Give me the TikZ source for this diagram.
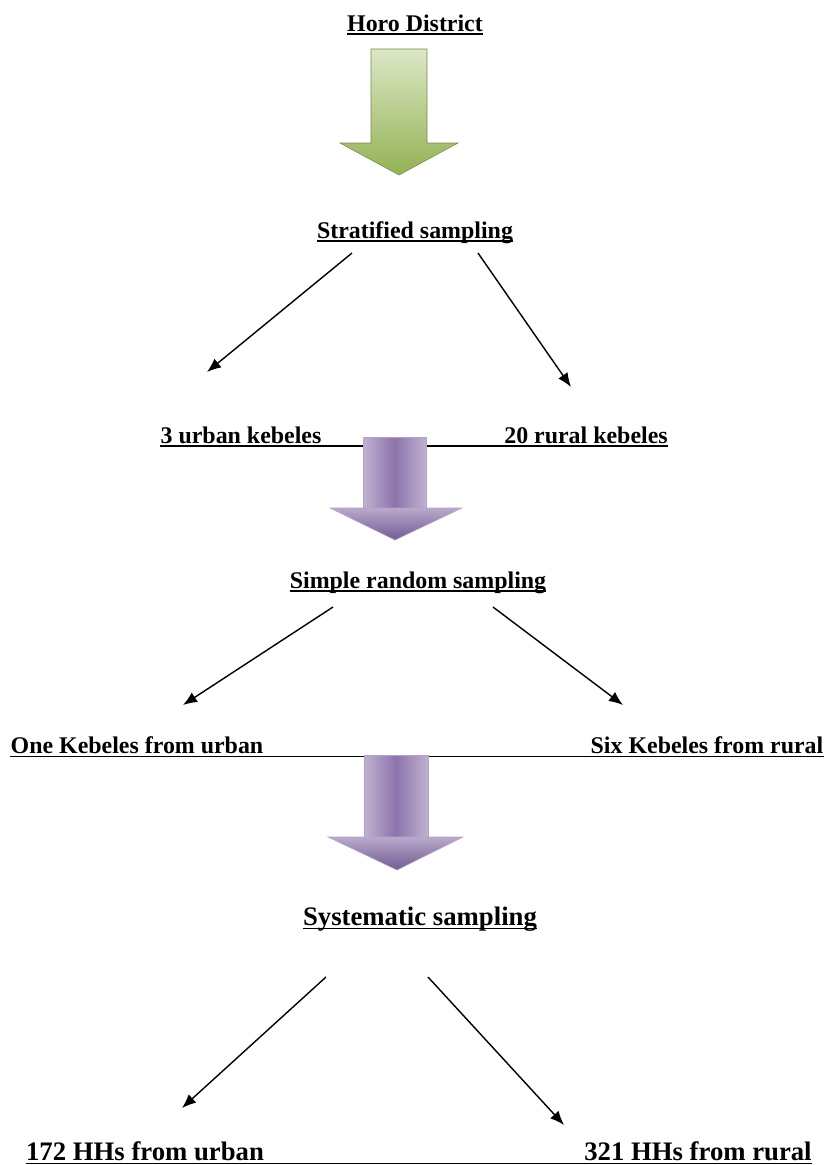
\documentclass[tikz,border=0pt]{standalone}
\usepackage{fontspec}
\setmainfont{Liberation Serif}
\usepackage{tikz}
\usetikzlibrary{arrows.meta}

\definecolor{leafgreen}{HTML}{9BBB59}
\definecolor{lilac}{HTML}{8064A2}

\begin{document}
\begin{tikzpicture}[x=0.025cm, y=-0.025cm,
	lbl/.style={inner sep=0pt, anchor=base, font=\bfseries\fontsize{17}{20}\selectfont},
	biglbl/.style={lbl, font=\bfseries\fontsize{19}{22}\selectfont},
	uline/.style={line width=1.1pt},
	pointer/.style={-{Latex[length=10pt,width=8pt]}, line width=1pt},
	shaft/.style={left color=lilac!50!white, right color=lilac!50!white, middle color=lilac!90!white, draw=lilac!60!white, line width=0.4pt},
	head/.style={top color=lilac!55!white, bottom color=lilac!90!black, draw=lilac!60!white, line width=0.4pt}]
	
	\useasboundingbox (0,0) rectangle (824,1165);
	
	\node[lbl] (horo)    at (415, 31)   {Horo District};
	\node[lbl] (strat)   at (415, 238)  {Stratified sampling};
	
	\node[lbl] (urban3)  at (241, 443)  {3 urban kebeles};
	\node[lbl] (rural20) at (586, 443)  {20 rural kebeles};
	
	\node[lbl] (simple)  at (418, 588)  {Simple random sampling};
	
	\node[lbl] (urban1)  at (137, 753)  {One Kebeles from urban};
	\node[lbl] (rural6)  at (707, 753)  {Six Kebeles from rural};
	
	\node[biglbl] (syst)  at (420, 925)  {Systematic sampling};
	
	\node[biglbl] (hh172) at (145, 1160) {172 HHs from urban};
	\node[biglbl] (hh321) at (698, 1160) {321 HHs from rural};
	
	% underlines
	\draw[uline] ([yshift=-2.2pt]horo.base west) -- ([yshift=-2.2pt]horo.base east);
	\draw[uline] ([yshift=-2.2pt]strat.base west) -- ([yshift=-2.2pt]strat.base east);
	\draw[uline] ([yshift=-2.2pt]simple.base west) -- ([yshift=-2.2pt]simple.base east);
	\draw[uline] ([yshift=-2.6pt]syst.base west) -- ([yshift=-2.6pt]syst.base east);
	\draw[uline] ([yshift=-2.2pt]urban3.base west) -- ([yshift=-2.2pt]rural20.base east);
	\draw[uline] ([yshift=-2.6pt]urban1.base west) -- ([yshift=-2.6pt]rural6.base east);
	\draw[uline] ([yshift=-2.6pt]hh172.base west) -- ([yshift=-2.6pt]hh321.base east);
	
	% block arrows
	\shade[top color=leafgreen!35!white, bottom color=leafgreen!95!black, draw=leafgreen!75!black, line width=0.4pt]
		(371,49) -- (427,49) -- (427,143) -- (458,143) -- (399,175) -- (340,143) -- (371,143) -- cycle;
	
	\shade[shaft] (363,437) rectangle (426,508);
	\shade[head]  (330,508) -- (462,508) -- (395,540) -- cycle;
	
	\shade[shaft] (364,755) rectangle (428,837);
	\shade[head]  (328,837) -- (463,837) -- (397,870) -- cycle;
	
	% arrow ends
	\coordinate (s1) at (352, 253);
	\coordinate (s2) at (478, 253);
	\coordinate (u3) at (207, 372);
	\coordinate (r20) at (571, 387);
	
	\coordinate (m1) at (333, 607);
	\coordinate (m2) at (493, 607);
	\coordinate (u1) at (183, 705);
	\coordinate (r6) at (623, 705);
	
	\coordinate (y1) at (326, 977);
	\coordinate (y2) at (428, 977);
	\coordinate (h1) at (182, 1108);
	\coordinate (h2) at (564, 1125);
	
	\draw[pointer] (s1) -- (u3);
	\draw[pointer] (s2) -- (r20);
	\draw[pointer] (m1) -- (u1);
	\draw[pointer] (m2) -- (r6);
	\draw[pointer] (y1) -- (h1);
	\draw[pointer] (y2) -- (h2);
	
\end{tikzpicture}
\end{document}
